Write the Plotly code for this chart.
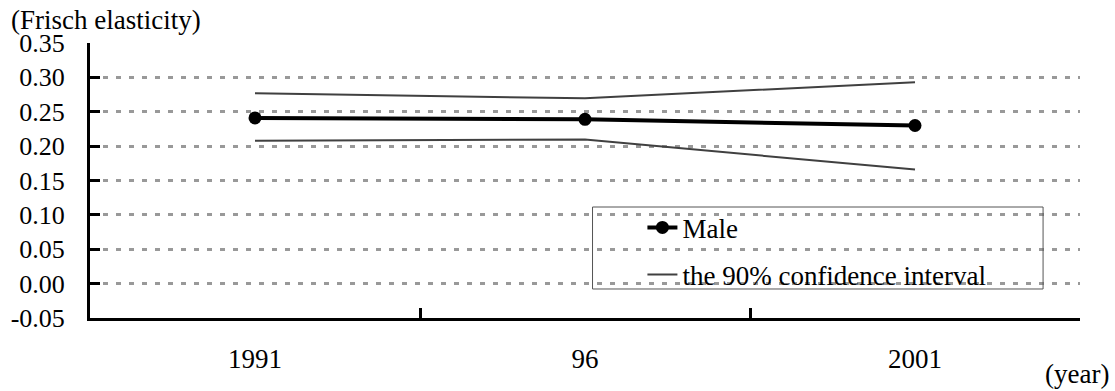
import plotly.graph_objects as go

years = ["1991", "96", "2001"]
male = [0.241, 0.239, 0.230]
ci_upper = [0.277, 0.2695, 0.293]
ci_lower = [0.208, 0.2095, 0.166]
y_ticks = [-0.05, 0.00, 0.05, 0.10, 0.15, 0.20, 0.25, 0.30, 0.35]
y_tick_labels = ["-0.05", "0.00", "0.05", "0.10", "0.15", "0.20", "0.25", "0.30", "0.35"]

FONT = "Liberation Serif, Times New Roman, serif"

fig = go.Figure()
fig.add_trace(go.Scatter(
    x=years, y=male, mode="lines+markers", name="Male",
    line=dict(color="black", width=4), marker=dict(color="black", size=13),
    legendgroup="male",
))
fig.add_trace(go.Scatter(
    x=years, y=ci_upper, mode="lines", name="the 90% confidence interval",
    line=dict(color="#404040", width=2), legendgroup="ci",
))
fig.add_trace(go.Scatter(
    x=years, y=ci_lower, mode="lines", name="the 90% confidence interval",
    line=dict(color="#404040", width=2), legendgroup="ci", showlegend=False,
))

fig.update_layout(
    width=1115, height=391,
    margin=dict(l=90, r=35, t=43, b=73),
    paper_bgcolor="white", plot_bgcolor="white",
    font=dict(family=FONT, size=26, color="black"),
    showlegend=True,
    legend=dict(
        x=0.558, y=0.417, xanchor="left", yanchor="top",
        bgcolor="rgba(0,0,0,0)", borderwidth=0,
        font=dict(family=FONT, size=27, color="black"),
        tracegroupgap=9, traceorder="grouped",
    ),
    xaxis=dict(
        type="category", range=[-0.5, 2.5], automargin=False,
        showline=True, linecolor="black", linewidth=3,
        ticks="inside", tickson="boundaries", ticklen=10, tickwidth=3, tickcolor="black",
        showgrid=False, zeroline=False,
        ticklabelstandoff=15,
        tickfont=dict(family=FONT, size=27, color="black"),
    ),
    yaxis=dict(
        range=[-0.05, 0.35], tickvals=y_ticks, ticktext=y_tick_labels, automargin=False,
        showline=True, linecolor="black", linewidth=3,
        ticks="inside", ticklen=10, tickwidth=3, tickcolor="black",
        showgrid=True, gridcolor="#999999", gridwidth=3, griddash="5px,8px",
        zeroline=False,
        ticklabelstandoff=17,
        tickfont=dict(family=FONT, size=26, color="black"),
    ),
    shapes=[dict(
        type="rect", xref="paper", yref="paper",
        x0=0.5076, x1=0.9627, y0=0.1055, y1=0.4036,
        line=dict(color="#555555", width=1), fillcolor="rgba(0,0,0,0)", layer="above",
    )],
    annotations=[
        dict(text="(Frisch elasticity)", xref="paper", yref="paper",
             x=-0.0818, y=1.0, xanchor="left", yanchor="middle", yshift=23,
             showarrow=False, font=dict(family=FONT, size=27, color="black")),
        dict(text="(year)", xref="paper", yref="paper",
             x=1.0, y=0.0, xanchor="left", yanchor="bottom", xshift=-37, yshift=-73,
             showarrow=False, font=dict(family=FONT, size=27, color="black")),
    ],
)

fig.write_html("out.html", config={"displayModeBar": False},
               post_script="document.body.style.margin='0';")
